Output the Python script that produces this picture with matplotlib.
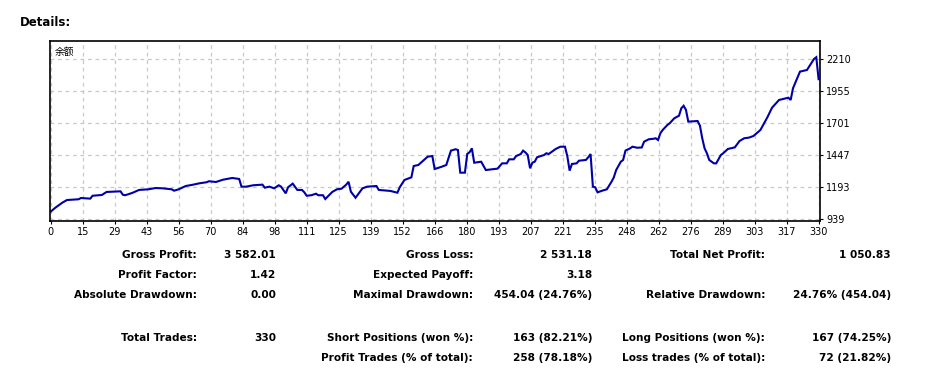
import matplotlib
matplotlib.use("Agg")
import matplotlib.pyplot as plt

# balance curve (trade number, balance)
trades = [0, 2, 5, 7, 12, 13, 17, 18, 22, 24, 30, 31, 32, 35, 38, 42, 45, 48, 52, 53,
          55, 58, 61, 64, 67, 68, 71, 74, 78, 81, 82, 84, 87, 91, 92, 94, 96, 98, 99, 101,
          102, 104, 106, 108, 109, 110, 112, 114, 115, 117, 118, 121, 123, 125, 127, 128, 129, 131, 134, 136,
          140, 141, 146, 149, 150, 152, 155, 156, 158, 162, 164, 165, 168, 170, 172, 174, 175, 176, 178, 179,
          180, 181, 182, 185, 187, 192, 194, 196, 197, 199, 200, 202, 203, 204, 205, 206, 207, 208, 209, 212,
          213, 214, 217, 219, 221, 222, 223, 224, 226, 227, 230, 231, 232, 233, 234, 235, 237, 239, 241, 242,
          243, 245, 246, 247, 249, 250, 252, 254, 255, 257, 259, 260, 261, 262, 263, 265, 266, 268, 270, 271,
          272, 273, 274, 278, 279, 280, 281, 282, 283, 285, 286, 288, 289, 291, 294, 296, 298, 300, 302, 305,
          308, 310, 313, 317, 318, 319, 322, 325, 328, 329, 330]
balance = [1000, 1031, 1071, 1092, 1098, 1108, 1103, 1126, 1132, 1156, 1161, 1134, 1130, 1148, 1172, 1177, 1187, 1185, 1177, 1166,
           1177, 1203, 1213, 1225, 1233, 1241, 1235, 1253, 1267, 1259, 1198, 1198, 1209, 1214, 1190, 1198, 1185, 1209, 1198, 1145,
           1193, 1222, 1172, 1172, 1153, 1126, 1130, 1142, 1130, 1130, 1100, 1156, 1177, 1182, 1214, 1237, 1158, 1110, 1185, 1198,
           1203, 1172, 1164, 1150, 1193, 1251, 1272, 1362, 1370, 1436, 1441, 1338, 1356, 1370, 1484, 1495, 1489, 1309, 1309, 1457,
           1471, 1502, 1388, 1396, 1330, 1341, 1383, 1383, 1415, 1415, 1441, 1457, 1484, 1470, 1449, 1344, 1388, 1396, 1431, 1449,
           1463, 1457, 1497, 1515, 1515, 1441, 1325, 1378, 1383, 1404, 1410, 1431, 1457, 1198, 1193, 1153, 1166, 1177, 1237, 1272,
           1330, 1396, 1410, 1484, 1502, 1515, 1507, 1509, 1555, 1574, 1578, 1582, 1568, 1622, 1648, 1687, 1701, 1741, 1761, 1820,
           1840, 1807, 1714, 1719, 1682, 1582, 1502, 1463, 1410, 1383, 1383, 1449, 1463, 1497, 1510, 1560, 1582, 1587, 1600, 1648,
           1749, 1825, 1886, 1904, 1886, 1979, 2111, 2124, 2211, 2225, 2051]

x_labels = ["0", "15", "29", "43", "56", "70", "84", "98", "111", "125", "139", "152", "166",
            "180", "193", "207", "221", "235", "248", "262", "276", "289", "303", "317", "330"]
y_ticks = [939, 1193, 1447, 1701, 1955, 2210]

stat_rows = [
    [("Gross Profit:", "3 582.01"), ("Gross Loss:", "2 531.18"), ("Total Net Profit:", "1 050.83")],
    [("Profit Factor:", "1.42"), ("Expected Payoff:", "3.18"), ("", "")],
    [("Absolute Drawdown:", "0.00"), ("Maximal Drawdown:", "454.04 (24.76%)"), ("Relative Drawdown:", "24.76% (454.04)")],
    [("Total Trades:", "330"), ("Short Positions (won %):", "163 (82.21%)"), ("Long Positions (won %):", "167 (74.25%)")],
    [("", ""), ("Profit Trades (% of total):", "258 (78.18%)"), ("Loss trades (% of total):", "72 (21.82%)")],
]

W, H = 930, 369
fig = plt.figure(figsize=(W / 100, H / 100), dpi=100)
fig.patch.set_facecolor("white")

def fx(px):
    return px / W

def fy(py):
    return 1 - py / H

ax = fig.add_axes([fx(50), fy(221), fx(820) - fx(50), fy(41) - fy(221)])
ax.plot(trades, balance, color="#0000a8", lw=1.5, solid_joinstyle="miter")
ax.set_xlim(-0.3, 330.6)
ax.set_ylim(925.5, 2354)

x_pos = [i * 330 / 24 for i in range(25)]
ax.set_xticks(x_pos)
ax.set_xticklabels(x_labels)
ax.set_yticks(y_ticks)
ax.yaxis.tick_right()
ax.tick_params(axis="both", labelsize=7, length=2.5, width=0.8, color="black", pad=2)
ax.grid(True, color="#c8c8c8", linestyle=(0, (3, 3)), linewidth=0.9)
for s in ax.spines.values():
    s.set_linewidth(1.2)
    s.set_color("black")

ax.text(0.006, 0.97, "余额", transform=ax.transAxes, ha="left", va="top",
        fontsize=7, family=["Noto Sans CJK SC", "DejaVu Sans"])

fig.text(fx(20), fy(22), "Details:", ha="left", va="center", fontsize=8.5,
         fontweight="bold", family="DejaVu Sans")

row_y = [255, 275, 295, 338, 358]
col_right = [(197, 276), (473, 592), (765, 891)]
for r, row in enumerate(stat_rows):
    for c, (lab, val) in enumerate(row):
        lx, vx = col_right[c]
        if lab:
            fig.text(fx(lx), fy(row_y[r]), lab, ha="right", va="center",
                     fontsize=7.6, fontweight="bold", family="DejaVu Sans")
        if val:
            fig.text(fx(vx), fy(row_y[r]), val, ha="right", va="center",
                     fontsize=7.6, fontweight="bold", family="DejaVu Sans")

fig.savefig("out.png", dpi=100, facecolor="white")
